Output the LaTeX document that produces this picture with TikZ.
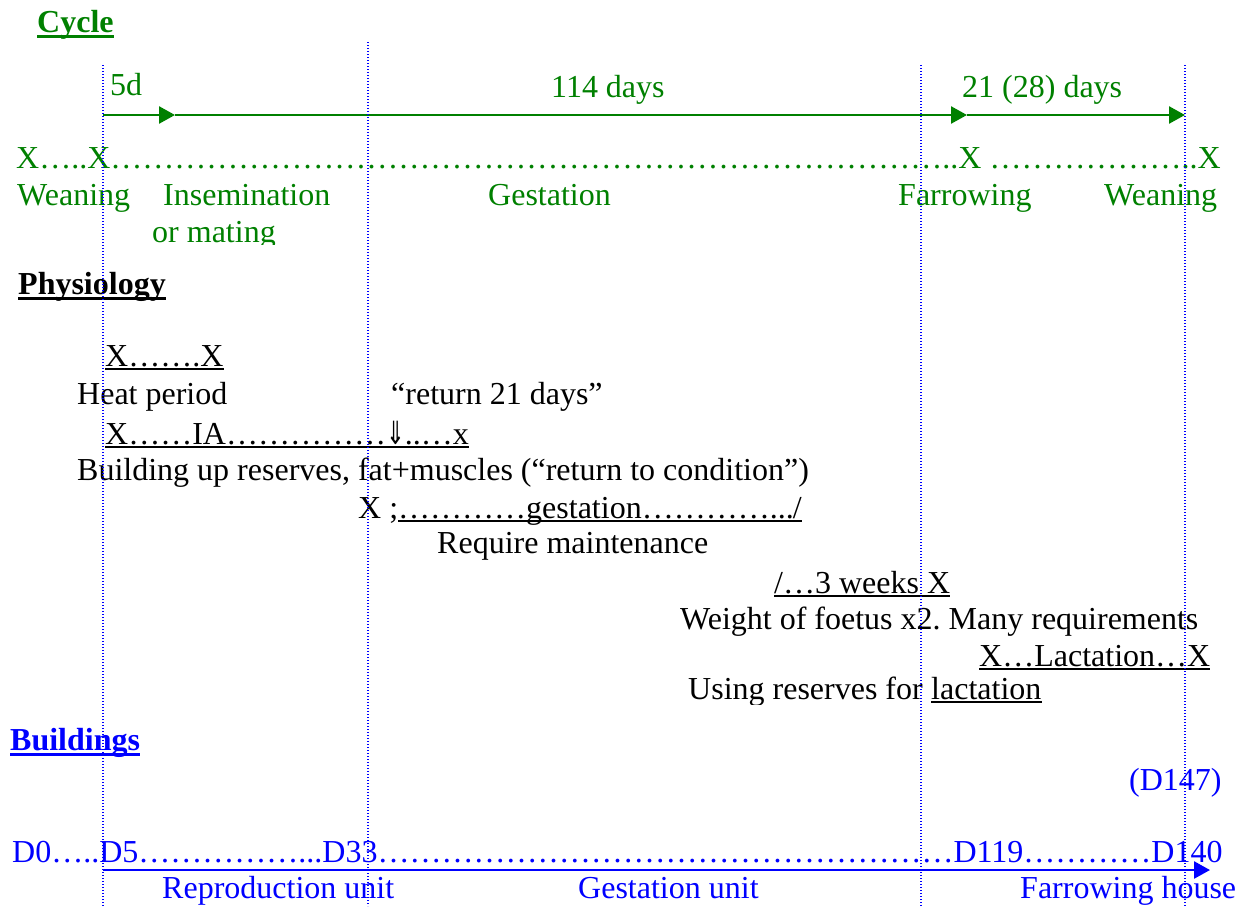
\documentclass[tikz,border=0pt]{standalone}
\usepackage{fontspec}
\usepackage{graphicx}
\setmainfont{Liberation Serif}
\newfontfamily\arrowfont{DejaVu Sans}
\usetikzlibrary{arrows.meta}
\frenchspacing

\definecolor{cyclegreen}{RGB}{0,128,0}
\definecolor{bldblue}{RGB}{0,0,255}

% a run of n ellipsis characters
\newcommand{\dotrun}[1]{\foreach \k in {1,...,#1}{…}}

\tikzset{
  txt/.style={anchor=base west, inner sep=0pt, font=\fontsize{32}{37}\selectfont},
  head/.style={txt, font=\fontsize{32}{37}\selectfont\bfseries},
  uline/.style={line width=2pt},
  marker/.style={bldblue, line width=1.4pt, dash pattern=on 1.4pt off 1.6pt},
  timeline/.style={line width=2.5pt, -{Triangle[length=16pt,width=17pt]}},
}

\begin{document}
\begin{tikzpicture}[x=1pt, y=-1pt]
	\useasboundingbox (0,0) rectangle (1247,906);

	% Cycle
	\node[head, cyclegreen] (cycle) at (37,32) {Cycle};
	\draw[uline, line width=3pt, cyclegreen] ([yshift=-4pt]cycle.base west) -- ([yshift=-4pt]cycle.base east);

	\coordinate (t0) at (103,115);
	\coordinate (t1) at (175,115);
	\coordinate (t2) at (967,115);
	\coordinate (t3) at (1185,115);
	\draw[timeline, cyclegreen] (t0) -- (t1);
	\draw[timeline, cyclegreen] (t1) -- (t2);
	\draw[timeline, cyclegreen] (t2) -- (t3);

	\node[txt, cyclegreen] (d5) at (110,95) {5d};
	\node[txt, cyclegreen] (d114) at (551,97) {114 days};
	\node[txt, cyclegreen] (d21) at (962,97) {21 (28) days};

	\node[txt, cyclegreen] (cyc) at (16,168) {X…..X\dotrun{26}..X \dotrun{6}..X};

	\node[txt, cyclegreen] (wean1) at (17,205) {Weaning};
	\node[txt, cyclegreen] (insem) at (163,205) {Insemination};
	\node[txt, cyclegreen] (gestc) at (488,205) {Gestation};
	\node[txt, cyclegreen] (farr) at (898,205) {Farrowing};
	\node[txt, cyclegreen] (wean2) at (1104,205) {Weaning};
	\begin{scope}
		\clip (0,215) rectangle (1247,244);
		\node[txt, cyclegreen] (mating) at (152,242) {or mating};
	\end{scope}

	% Physiology
	\node[head] (phys) at (18,294) {Physiology};
	\draw[uline, line width=3pt] ([yshift=-4pt]phys.base west) -- ([yshift=-4pt]phys.base east);

	\node[txt] (heat) at (105,366) {X…….X};
	\draw[uline] ([yshift=-3pt]heat.base west) -- ([yshift=-3pt]heat.base east);
	\node[txt] (hp) at (77,404) {Heat period};
	\node[txt] (ret) at (391,404) {“return 21 days”};

	\node[txt] (ia) at (105,444) {X……IA……………\smash{\scalebox{0.7}[1]{\arrowfont ⇓}}..…x};
	\draw[uline] ([yshift=-3pt]ia.base west) -- ([yshift=-3pt]ia.base east);
	\node[txt] (bur) at (77,480) {Building up reserves, fat+muscles (“return to condition”)};

	\node[txt] (gx) at (358,518) {X ;};
	\node[txt] (gest) at (398,518) {…………gestation…………...\kern-1pt/};
	\draw[uline] ([yshift=-3pt]gest.base west) -- ([yshift=-3pt]gest.base east);
	\node[txt] (rm) at (437,553) {Require maintenance};

	\node[txt] (wk) at (774,593) {/…3 weeks X};
	\draw[uline] ([yshift=-3pt]wk.base west) -- ([yshift=-3pt]wk.base east);
	\node[txt] (wf) at (680,629) {Weight of foetus x2. Many requirements};

	\node[txt] (lac) at (979,666) {X…Lactation…X};
	\draw[uline] ([yshift=-3pt]lac.base west) -- ([yshift=-3pt]lac.base east);
	\begin{scope}
		\clip (0,675) rectangle (1247,704);
		\node[txt] (usr) at (688,699) {Using reserves for};
		\node[txt] (ulac) at (931,699) {lactation};
		\draw[uline] ([yshift=-3pt]ulac.base west) -- ([yshift=-3pt]ulac.base east);
	\end{scope}

	% Buildings
	\node[head, bldblue] (bld) at (10,750) {Buildings};
	\draw[uline, line width=3pt, bldblue] ([yshift=-4pt]bld.base west) -- ([yshift=-4pt]bld.base east);

	\node[txt, bldblue] (d147) at (1129,790) {(D147)};
	\node[txt, bldblue] (days) at (12,862) {D0…..D5……………...D33\dotrun{18}D119…………D140};

	\coordinate (b0) at (103,870);
	\coordinate (b1) at (1210,870);
	\draw[timeline, bldblue] (b0) -- (b1);

	\node[txt, bldblue] (ru) at (162,898) {Reproduction unit};
	\node[txt, bldblue] (gu) at (578,898) {Gestation unit};
	\node[txt, bldblue] (fh) at (1020,898) {Farrowing house};

	% stage markers
	\coordinate (m1t) at (103,65);   \coordinate (m1b) at (103,906);
	\coordinate (m2t) at (368,42);   \coordinate (m2b) at (368,906);
	\coordinate (m3t) at (921,65);   \coordinate (m3b) at (921,906);
	\coordinate (m4t) at (1185,65);  \coordinate (m4b) at (1185,906);
	\draw[marker] (m1t) -- (m1b);
	\draw[marker] (m2t) -- (m2b);
	\draw[marker] (m3t) -- (m3b);
	\draw[marker] (m4t) -- (m4b);
\end{tikzpicture}
\end{document}
